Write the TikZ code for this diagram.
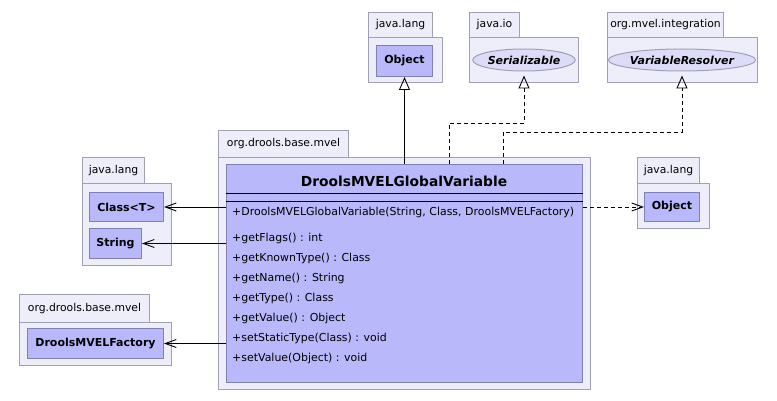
\documentclass[tikz,border=0pt]{standalone}
\usepackage{fontspec}
\setmainfont{DejaVu Sans}
\usetikzlibrary{arrows.meta,shapes.geometric}
\definecolor{pkgfill}{HTML}{EEEEFA}
\definecolor{pkgline}{HTML}{A0A0B4}
\definecolor{clsfill}{HTML}{B8B8FA}
\definecolor{clsline}{HTML}{8080B4}
\definecolor{ifcfill}{HTML}{DCDCF8}
\tikzset{
  pkgbox/.style={draw=pkgline, fill=pkgfill, anchor=north west, inner sep=0, line width=1pt, font=\fontsize{10.8}{12}\selectfont},
  clsbox/.style={draw=clsline, fill=clsfill, anchor=north west, inner sep=0, line width=1pt, font=\fontsize{11}{13}\selectfont\bfseries},
  ifcbox/.style={ellipse, draw=pkgline, fill=ifcfill, inner sep=0, line width=1pt, font=\fontsize{11}{13}\selectfont\bfseries\itshape},
  member/.style={anchor=west, inner sep=0, font=\fontsize{10.95}{12}\selectfont},
  gen/.style={-{Triangle[open,length=13pt,width=11pt]}, line width=0.9pt},
  realiz/.style={gen, dash pattern=on 4pt off 3pt},
  assoc/.style={-{Straight Barb[length=11pt,width=8pt]}, line width=0.9pt},
  depend/.style={assoc, dash pattern=on 4pt off 3pt},
}
\begin{document}
\begin{tikzpicture}[x=1pt,y=-1pt]
\useasboundingbox[fill=white] (0,0) rectangle (777,401);

% top java.lang
\node[pkgbox, minimum width=74, minimum height=45] (p1b) at (368,37) {};
\node[pkgbox, minimum width=64, minimum height=25] (p1t) at (368,12) {java.lang};
\node[clsbox, minimum width=56, minimum height=31] (objA) at (376,45) {Object};

% java.io
\node[pkgbox, minimum width=109, minimum height=45] (p2b) at (469,37) {};
\node[pkgbox, minimum width=50, minimum height=25] (p2t) at (469,12) {java.io};
\node[ifcbox, minimum width=94, minimum height=22] (ser) at (524,60) {Serializable};

% org.mvel.integration
\node[pkgbox, minimum width=150, minimum height=45] (p3b) at (607,37) {};
\node[pkgbox, minimum width=116, minimum height=25] (p3t) at (607,12) {org.mvel.integration};
\node[ifcbox, minimum width=135, minimum height=22] (var) at (682,60) {VariableResolver};

% main package
\node[pkgbox, minimum width=372, minimum height=232] (p4b) at (218,157) {};
\node[pkgbox, minimum width=130, minimum height=27] (p4t) at (218,130) {org.drools.base.mvel};
\node[clsbox, minimum width=356, minimum height=218] (main) at (226,164) {};
\node[font=\fontsize{13.8}{15}\selectfont\bfseries, inner sep=0] (title) at (404,181) {DroolsMVELGlobalVariable};
\draw[line width=0.9pt] ([yshift=-29pt]main.north west) -- ([yshift=-29pt]main.north east);
\draw[line width=0.9pt] ([yshift=-37pt]main.north west) -- ([yshift=-37pt]main.north east);
\node[member] (m0) at (232,212) {+DroolsMVELGlobalVariable(String, Class, DroolsMVELFactory)};
\node[member] (m1) at (232,238) {+getFlags() : int};
\node[member] (m2) at (232,258) {+getKnownType() : Class};
\node[member] (m3) at (232,278) {+getName() : String};
\node[member] (m4) at (232,298) {+getType() : Class};
\node[member] (m5) at (232,318) {+getValue() : Object};
\node[member] (m6) at (232,338) {+setStaticType(Class) : void};
\node[member] (m7) at (232,358) {+setValue(Object) : void};

% left java.lang
\node[pkgbox, minimum width=89, minimum height=82] (p5b) at (82,183) {};
\node[pkgbox, minimum width=62, minimum height=26] (p5t) at (82,157) {java.lang};
\node[clsbox, minimum width=74, minimum height=29] (clsT) at (89,192) {Class<T>};
\node[clsbox, minimum width=52, minimum height=30] (str) at (89,228) {String};

% left org.drools.base.mvel
\node[pkgbox, minimum width=152, minimum height=43] (p6b) at (19,322) {};
\node[pkgbox, minimum width=130, minimum height=28] (p6t) at (19,294) {org.drools.base.mvel};
\node[clsbox, minimum width=136, minimum height=30] (fac) at (27,328) {DroolsMVELFactory};

% right java.lang
\node[pkgbox, minimum width=72, minimum height=45] (p7b) at (637,183) {};
\node[pkgbox, minimum width=62, minimum height=26] (p7t) at (637,157) {java.lang};
\node[clsbox, minimum width=55, minimum height=29] (objR) at (644,192) {Object};

% connectors
\coordinate (ms) at (449,164);
\coordinate (mv) at (503,164);
\draw[gen] (main.north -| objA.south) -- (objA.south);
\draw[realiz, shorten >=4pt] (ms) -- ++(0,-41) -| (ser.south);
\draw[realiz, shorten >=4pt] (mv) -- ++(0,-32) -| (var.south);
\draw[assoc] (main.west |- clsT.east) -- (clsT.east);
\draw[assoc] (main.west |- str.east) -- (str.east);
\draw[assoc] (main.west |- fac.east) -- (fac.east);
\draw[depend] (main.east |- objR.west) -- (objR.west);
\end{tikzpicture}
\end{document}
